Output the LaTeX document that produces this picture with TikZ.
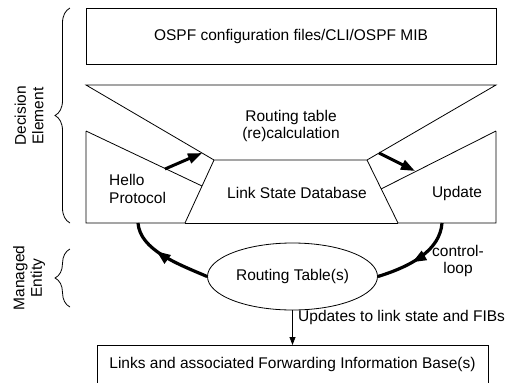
\documentclass[tikz,border=0pt]{standalone}
\usepackage{fontspec}
\setmainfont{Liberation Sans}
\usetikzlibrary{shapes.geometric,arrows.meta,decorations.pathreplacing,decorations.markings}
\tikzset{
  thinline/.style={line width=0.8pt, draw=black},
  lbl/.style={font=\fontsize{15.5}{17.5}\selectfont, inner sep=0pt, align=center},
  bigarrow/.style={line width=3pt, -{Triangle[length=14pt,width=10pt]}},
  loopline/.style={line width=3.2pt, postaction={decorate},
    decoration={markings, mark=at position #1 with {\arrow{Triangle[length=14pt,width=10pt]}}}},
  bracestyle/.style={line width=0.8pt, decorate, decoration={brace, amplitude=#1}},
}
\begin{document}
\begin{tikzpicture}[x=1pt,y=-1pt]
\useasboundingbox (0,0) rectangle (509,383);
\clip (0,0) rectangle (509,383);

% configuration box
\node[thinline, draw, minimum width=410pt, minimum height=56pt, lbl] (ospf) at (291,36)
  {OSPF configuration files/CLI/OSPF MIB};

% corner points of the decision element panels
\coordinate (r1) at (86,85);
\coordinate (r2) at (496,85);
\coordinate (r3) at (367,160);
\coordinate (r4) at (214,160);
\coordinate (l3) at (398,223);
\coordinate (l4) at (185,223);
\coordinate (h1) at (86,131);
\coordinate (h2) at (202,186);
\coordinate (h4) at (86,223);
\coordinate (u1) at (496,131);
\coordinate (u2) at (381,189);
\coordinate (u4) at (496,223);

% routing table calculation (inverted trapezoid)
\draw[thinline] (r1) -- (r2) -- (r3) -- (r4) -- cycle;
% link state database
\draw[thinline] (r4) -- (l4) (r3) -- (l3);
% hello protocol panel
\draw[thinline] (h1) -- (h2) (h1) -- (h4) -- (l4);
% update panel
\draw[thinline] (u1) -- (u2) (u1) -- (u4) -- (l3);
\draw[thinline] (l4) -- (l3);

\node[lbl] (calc) at (291,126) {Routing table\\(re)calculation};
\node[lbl, align=left, anchor=west] (hello) at (109,189) {Hello\\Protocol};
\node[lbl] (lsdb) at (297,193) {Link State Database};
\node[lbl] (upd) at (457,193) {Update};

% arrows between panels
\coordinate (ha) at (165,169);
\coordinate (hb) at (202,153);
\coordinate (ua) at (379,153);
\coordinate (ub) at (415,171);
\draw[bigarrow] (ha) -- (hb);
\draw[bigarrow] (ua) -- (ub);

% routing table
\node[ellipse, thinline, draw, fill=white, minimum width=170pt, minimum height=67pt,
  inner sep=0pt, lbl] (rt) at (292.5,276.5) {Routing Table(s)};

% control loop
\coordinate (helloout) at (138,223);
\coordinate (updout) at (442,223);
\draw[loopline=0.58] (updout) .. controls (440,250) and (412,266) .. (rt.east);
\draw[loopline=0.62] (rt.west) .. controls (178,264) and (140,250) .. (helloout);
\node[lbl] (cl) at (458,261) {control-\\loop};

% links box (runs past the lower edge)
\draw[thinline] (97,400) -- (97,345) -- (488,345) -- (488,400);
\coordinate (lt) at (292.5,345);
\node[lbl] (links) at (292.5,364) {Links and associated Forwarding Information Base(s)};
\draw[thinline, -{Triangle[length=8pt,width=6pt]}] (rt.south) -- (lt);
\node[lbl, anchor=west] (upl) at (298,317) {Updates to link state and FIBs};

% braces and side labels
\coordinate (b1) at (70,223);
\coordinate (b2) at (70,8);
\coordinate (b3) at (70,307);
\coordinate (b4) at (70,249);
\draw[bracestyle=15pt] (b1) -- (b2);
\draw[bracestyle=15pt] (b3) -- (b4);
\node[lbl, rotate=90] (dec) at (29,116) {Decision\\Element};
\node[lbl, rotate=90] (man) at (29,278) {Managed\\Entity};
\end{tikzpicture}
\end{document}
